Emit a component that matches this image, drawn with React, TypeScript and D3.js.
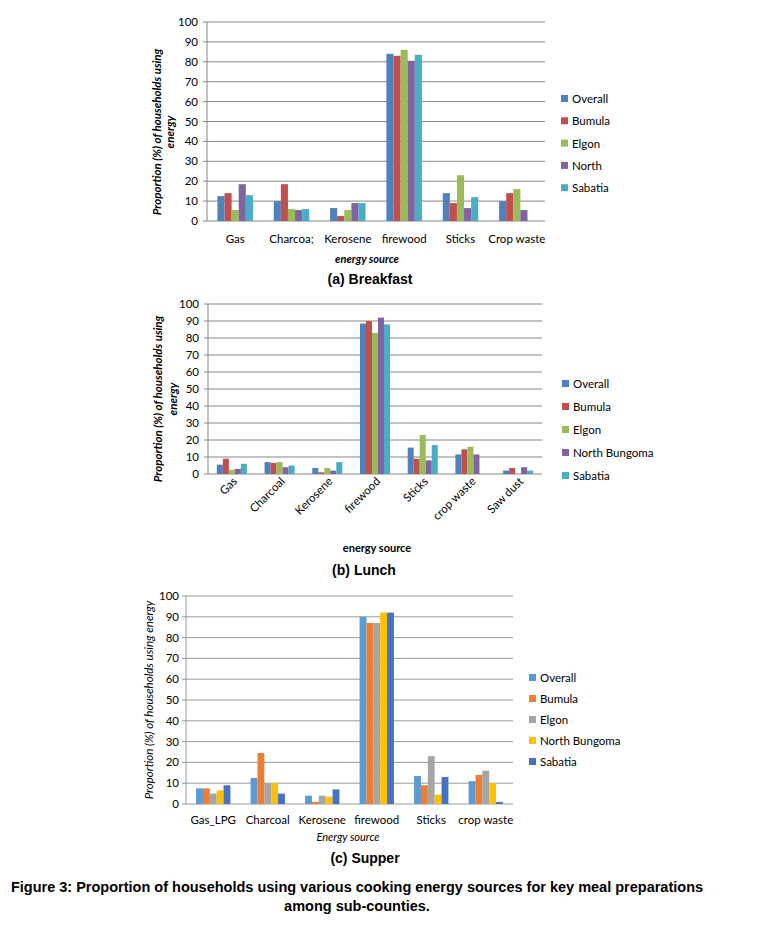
import React from "react";
import * as d3 from "d3";

// ---------- DATA ----------
const categoriesA = ["Gas", "Charcoa;", "Kerosene", "firewood", "Sticks", "Crop waste"];
const seriesA = ["Overall", "Bumula", "Elgon", "North", "Sabatia"];
const overallA = [12.5, 10, 6.5, 84, 14, 10];
const bumulaA = [14, 18.5, 2.5, 83, 9, 14];
const elgonA = [5.5, 6, 5.5, 86, 23, 16];
const northA = [18.5, 5.5, 9, 80.5, 6.5, 5.5];
const sabatiaA = [13, 6, 9, 83.5, 12, 0];

const categoriesB = ["Gas", "Charcoal", "Kerosene", "firewood", "Sticks", "crop waste", "Saw dust"];
const seriesB = ["Overall", "Bumula", "Elgon", "North Bungoma", "Sabatia"];
const overallB = [5.5, 7, 3.5, 88.5, 15.5, 11.5, 2];
const bumulaB = [9, 6.5, 1, 90, 9, 14.5, 3.5];
const elgonB = [2.5, 7, 3.5, 83, 23, 16, 0];
const northB = [3, 4, 2, 92, 8, 11.5, 4];
const sabatiaB = [6, 5, 7, 88, 17, 0, 2];

const categoriesC = ["Gas_LPG", "Charcoal", "Kerosene", "firewood", "Sticks", "crop waste"];
const seriesC = ["Overall", "Bumula", "Elgon", "North Bungoma", "Sabatia"];
const overallC = [7.5, 12.5, 4, 90, 13.5, 11];
const bumulaC = [7.5, 24.5, 1, 87, 9, 14];
const elgonC = [5, 10, 4, 87, 23, 16];
const northC = [6.5, 10, 3.5, 92, 4.5, 10];
const sabatiaC = [9, 5, 7, 92, 13, 1];

const yTicks = [0, 10, 20, 30, 40, 50, 60, 70, 80, 90, 100];

const colorsAB = ["#4F81BD", "#C0504D", "#9BBB59", "#8064A2", "#4BACC6"];
const colorsC = ["#5B9BD5", "#ED7D31", "#A5A5A5", "#FFC000", "#4472C4"];

const FONT = "Lato, 'Open Sans', sans-serif";
const ARIAL = "'Liberation Sans', Arial, sans-serif";

type PanelProps = {
  categories: string[];
  series: string[];
  values: number[][];
  colors: string[];
  x0: number; x1: number; yTop: number; yBottom: number;
  gridColor: string;
  tickLabelX: number;
  catLabelY: number;
  rotateLabels: boolean;
  yTitle: string[];
  yTitleX: number[];
  yTitleY: number;
  yTitleStyle: { weight: string; italic: boolean; size: number };
  xTitle: string; xTitleX: number; xTitleY: number;
  xTitleStyle: { weight: string; italic: boolean };
  legendX: number; legendY0: number; legendStep: number;
  caption: string; captionX: number; captionY: number;
};

function Panel(p: PanelProps) {
  const x = d3.scaleBand<string>().domain(p.categories).range([p.x0, p.x1]).paddingInner(0.37).paddingOuter(0.185);
  const outer = d3.scaleBand<string>().domain(p.categories).range([p.x0, p.x1]);
  const inner = d3.scaleBand<string>().domain(p.series).range([0, x.bandwidth()]);
  const y = d3.scaleLinear().domain([0, 100]).range([p.yBottom, p.yTop]);
  return (
    <g>
      {yTicks.map((t) => (
        <g key={t}>
          <line x1={p.x0} x2={p.x1} y1={y(t)} y2={y(t)} stroke={p.gridColor} strokeWidth={1} />
          <line x1={p.x0 - 4} x2={p.x0} y1={y(t)} y2={y(t)} stroke={p.gridColor} strokeWidth={1} />
          <text x={p.tickLabelX} y={y(t)} dy="0.35em" textAnchor="end" fontSize={11.5} fontFamily={FONT} fill="#000">{t}</text>
        </g>
      ))}
      <line x1={p.x0} x2={p.x0} y1={p.yTop} y2={p.yBottom} stroke={p.gridColor} strokeWidth={1} />
      {p.categories.map((c, ci) => (
        <g key={c}>
          {p.series.map((s, si) => {
            const v = p.values[si][ci];
            if (!v) return null;
            return (
              <rect key={s} x={(x(c) as number) + (inner(s) as number)} width={inner.bandwidth()} y={y(v)} height={y(0) - y(v)} fill={p.colors[si]} />
            );
          })}
          {p.rotateLabels ? (
            <text transform={`translate(${(outer(c) as number) + outer.bandwidth() / 2 + 6},${p.catLabelY}) rotate(-45)`} textAnchor="end" fontSize={11.5} fontFamily={FONT}>{c}</text>
          ) : (
            <text x={(outer(c) as number) + outer.bandwidth() / 2} y={p.catLabelY} textAnchor="middle" fontSize={11.5} fontFamily={FONT}>{c}</text>
          )}
        </g>
      ))}
      {p.yTitle.map((line, i) => (
        <text key={i} transform={`translate(${p.yTitleX[i]},${p.yTitleY}) rotate(-90)`} textAnchor="middle" fontSize={p.yTitleStyle.size} fontFamily={FONT} fontWeight={p.yTitleStyle.weight} fontStyle={p.yTitleStyle.italic ? "italic" : "normal"}>{line}</text>
      ))}
      <text x={p.xTitleX} y={p.xTitleY} textAnchor="middle" fontSize={11} fontFamily={FONT} fontWeight={p.xTitleStyle.weight} fontStyle={p.xTitleStyle.italic ? "italic" : "normal"}>{p.xTitle}</text>
      {p.series.map((s, si) => (
        <g key={s}>
          <rect x={p.legendX} y={p.legendY0 + si * p.legendStep - 4} width={7} height={7} fill={p.colors[si]} />
          <text x={p.legendX + 11} y={p.legendY0 + si * p.legendStep} dy="0.35em" fontSize={11.5} fontFamily={FONT}>{s}</text>
        </g>
      ))}
      <text x={p.captionX} y={p.captionY} textAnchor="middle" fontSize={14} fontWeight="bold" fontFamily={ARIAL}>{p.caption}</text>
    </g>
  );
}

export default function App() {
  return (
    <svg width={762} height={934} style={{ position: "absolute", left: 0, top: 0, background: "#fff" }}>
      <rect width={762} height={934} fill="#fff" />
      <Panel
        categories={categoriesA} series={seriesA}
        values={[overallA, bumulaA, elgonA, northA, sabatiaA]} colors={colorsAB}
        x0={207} x1={545} yTop={22} yBottom={221} gridColor="#868686"
        tickLabelX={198} catLabelY={243} rotateLabels={false}
        yTitle={["Proportion (%) of households using", "energy"]} yTitleX={[161, 174]} yTitleY={132}
        yTitleStyle={{ weight: "bold", italic: true, size: 11.5 }}
        xTitle="energy source" xTitleX={367} xTitleY={263} xTitleStyle={{ weight: "bold", italic: true }}
        legendX={561} legendY0={99} legendStep={22.3}
        caption="(a) Breakfast" captionX={370} captionY={284}
      />
      <Panel
        categories={categoriesB} series={seriesB}
        values={[overallB, bumulaB, elgonB, northB, sabatiaB]} colors={colorsAB}
        x0={208} x1={542} yTop={304} yBottom={474} gridColor="#868686"
        tickLabelX={199} catLabelY={482} rotateLabels={true}
        yTitle={["Proportion (%) of households using", "energy"]} yTitleX={[162, 177]} yTitleY={399}
        yTitleStyle={{ weight: "bold", italic: true, size: 11.5 }}
        xTitle="energy source" xTitleX={377} xTitleY={552} xTitleStyle={{ weight: "bold", italic: false }}
        legendX={562} legendY0={384} legendStep={23}
        caption="(b) Lunch" captionX={364} captionY={575}
      />
      <Panel
        categories={categoriesC} series={seriesC}
        values={[overallC, bumulaC, elgonC, northC, sabatiaC]} colors={colorsC}
        x0={186} x1={513} yTop={596} yBottom={804} gridColor="#9a9a9a"
        tickLabelX={179} catLabelY={824} rotateLabels={false}
        yTitle={["Proportion (%) of households using energy"]} yTitleX={[153]} yTitleY={700}
        yTitleStyle={{ weight: "normal", italic: true, size: 11.5 }}
        xTitle="Energy source" xTitleX={348} xTitleY={841} xTitleStyle={{ weight: "normal", italic: true }}
        legendX={529} legendY0={678} legendStep={21}
        caption="(c) Supper" captionX={365} captionY={863}
      />
      <text x={357} y={892} textAnchor="middle" fontSize={14.5} fontWeight="bold" fontFamily={ARIAL}>
        Figure 3: Proportion of households using various cooking energy sources for key meal preparations
      </text>
      <text x={357} y={911} textAnchor="middle" fontSize={14.5} fontWeight="bold" fontFamily={ARIAL}>
        among sub-counties.
      </text>
    </svg>
  );
}
